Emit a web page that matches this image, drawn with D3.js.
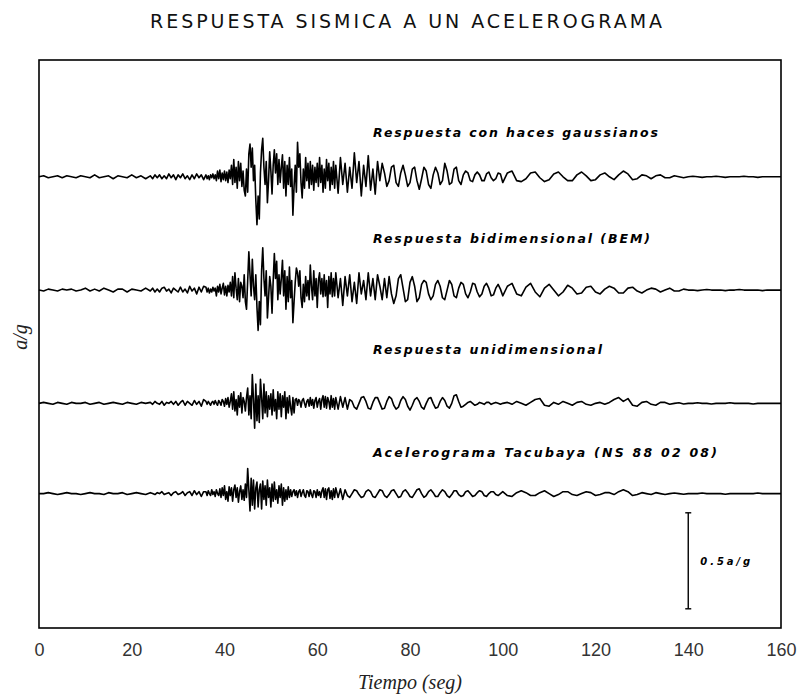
<!DOCTYPE html>
<html><head><meta charset="utf-8">
<script src="https://cdn.jsdelivr.net/npm/d3@7/dist/d3.min.js"></script>
<style>body{margin:0;background:#fff}</style>
</head><body>
<svg id="chart" width="806" height="698"></svg>
<script>
// ---------------- DATA ----------------
const chartTitle = "RESPUESTA SISMICA A UN ACELEROGRAMA";
const xAxisTitle = "Tiempo (seg)";
const yAxisTitle = "a/g";
const xTickValues = [0, 20, 40, 60, 80, 100, 120, 140, 160];
const traceLabels = [
  "Respuesta con haces gaussianos",
  "Respuesta bidimensional (BEM)",
  "Respuesta unidimensional",
  "Acelerograma Tacubaya (NS 88 02 08)"
];
// vertical offsets of each trace (a/g units)
const traceOffsets = [2.35, 1.76, 1.17, 0.70];
// sampling instants (s): dt = 1, 0.5, 0.25, 0.5, 1 s in successive windows
const sampleTimes = [].concat(
  d3.range(0, 24, 1), d3.range(24, 36, 0.5), d3.range(36, 64, 0.25),
  d3.range(64, 100, 0.5), d3.range(100, 161, 1));

// a/g values
const respHaces = [
  0,.005,-.005,0,.005,-.005,.005,0,-.005,.005,0,-.005,.01,-.005,0,.005,-.01,.005,0,-.005,.01,-.005,.005,-.01,
  .005,-.01,.01,-.005,.01,-.01,.005,-.01,.015,-.005,.01,-.015,.01,-.005,.015,-.01,.005,-.015,.01,-.01,.015,-.005,.01,-.015,
  .01,-.01,.005,-.015,.01,-.005,.015,-.01,.01,
  -.02,.03,-.01,.035,-.025,.02,-.015,.03,-.02,.025,-.03,.035,-.01,
  .06,-.04,.09,-.03,.05,-.06,.08,-.02,.07,-.05,
  .03,-.07,
  -.10,.04,-.08,.12,.17,.05,.15,
  -.02,.06,-.12,
  -.25,-.10,-.22,.02,
  .14,.20,
  .05,-.04,.08,
  -.135,-.02,.13,.03,-.09,
  .06,
  .14,.02,.12,-.04,.09,-.03,
  .05,
  .115,-.06,.08,-.10,.06,-.04,.10,
  -.05,.04,
  -.20,
  -.05,.06,-.08,
  .18,.05,.12,
  -.03,
  -.11,.04,-.06,.10,-.02,.07,
  -.06,
  .08,-.04,.06,-.07,.05,-.03,.07,-.05,
  .10,-.03,.06,-.08,.04,-.06,.09,-.02,.07,-.07,.05,-.04,.08,-.06,
  .06,-.085,.10,-.04,.07,-.08,.05,-.06,
  .125,-.03,.08,-.10,.06,-.05,.11,-.07,.04,-.09,.08,-.02,
  .07,.02,-.05,-.02,.05,.06,-.03,-.05,.02,.06,.01,-.05,-.03,.04,
  .05,-.02,-.065,-.01,.05,.03,-.04,-.06,.01,.05,.02,-.04,
  -.02,.07,.03,-.04,-.03,.04,.05,-.02,-.04,.01,
  .03,.02,-.02,-.025,.01,.025,.01,-.02,-.02,.015,.025,-.005,-.02,-.01,.02,.015,
  -.03,.02,.03,-.02,
  -.025,-.01,.02,.025,-.005,-.025,-.015,.015,.025,0,-.02,-.02,.01,.025,.005,-.02,-.015,.01,.02,0,-.015,
  .01,.03,.015,-.015,-.01,
  .01,.005,-.01,.005,.01,-.005,-.005,.005,0,-.005,
  0,.003,0,-.003,0,0,.003,0,-.003,0,0,0,.003,0,0,-.003,0,0,0,0,0
];
const respBEM = [
  0,-.005,.005,0,-.005,.005,0,.005,-.005,0,.01,-.005,.005,-.005,.01,0,-.01,.005,.005,-.01,.005,0,-.005,.01,
  -.005,.01,-.01,.005,-.01,.01,.015,-.005,.005,-.015,.01,0,-.01,.015,-.01,.005,-.015,.02,-.005,.01,-.02,.015,-.01,.02,
  .015,-.01,.01,-.015,.005,-.01,.015,-.005,.01,
  -.03,.02,-.01,.03,-.02,.01,.035,-.025,.02,-.03,.025,-.01,.04,
  -.03,.07,-.04,.09,.01,-.05,.06,-.06,.04,.02,
  -.04,.08,
  -.06,-.10,.05,.20,.08,-.03,.16,
  .02,-.05,.08,
  -.09,-.21,-.06,-.18,
  .10,.22,
  .06,-.03,.10,
  -.145,-.04,.07,.02,-.12,
  .05,
  .19,.06,.15,-.05,.08,-.02,
  .06,
  .155,-.03,.10,-.10,.07,-.06,.12,
  -.04,.05,
  -.17,
  -.06,.04,.115,
  .09,.02,.10,
  -.04,
  -.09,.03,-.06,.07,-.03,.05,
  -.05,
  .13,.02,-.05,.10,-.03,.06,-.09,.05,
  .09,-.02,.06,-.035,.08,-.03,.05,-.09,.07,-.02,.09,-.035,.06,-.03,
  .09,-.04,.06,-.08,.07,-.03,.08,-.06,.04,-.07,.09,-.02,.05,-.05,
  .09,-.03,.06,-.05,.08,.02,-.05,.06,-.04,.07,-.02,
  -.07,-.03,.06,.08,.01,-.06,-.05,.04,.07,.02,-.06,-.04,
  .03,.05,.04,-.02,-.05,-.03,.03,.05,.02,-.04,-.05,0,.05,.03,
  -.03,-.04,.01,.04,.03,-.02,-.04,-.01,.035,.03,-.01,-.035,-.02,.02,.035,.01,-.03,-.025,.01,.03,.005,
  -.03,.02,.035,-.02,-.03,.015,.035,-.01,-.035,.01,.03,0,-.03,-.01,.025,
  .01,-.02,-.015,.015,.02,-.01,-.02,.005,.02,.01,-.015,-.015,.01,.015,-.005,-.015,0,.01,
  .005,-.01,0,.01,-.005,-.005,.005,0,
  0,-.003,0,.003,0,0,0,-.003,0,0,.003,0,0,0,0,-.003,0,0,0,0
];
const respUni = [
  0,.005,0,-.005,.005,0,-.005,.005,0,0,.005,-.005,0,.005,-.005,0,.005,0,-.005,.005,0,-.005,.005,0,
  .005,-.005,.01,0,-.005,.01,-.01,.005,0,.01,-.005,.01,-.01,.005,.015,-.01,.01,0,-.01,.015,-.005,.01,-.015,.02,
  .01,-.005,.01,0,-.01,.005,.01,-.005,.015,0,-.01,.015,.005,
  -.01,.02,.01,-.015,.025,-.005,.03,-.02,.01,
  .05,-.03,.06,-.04,.02,-.06,.04,-.02,.055,-.05,.03,.01,-.04,.03,
  .08,-.06,.04,-.08,
  .15,.02,-.13,.10,-.09,
  .04,-.10,
  .125,.03,-.08,.10,-.05,.06,-.07,.04,-.03,
  .05,-.06,
  .07,-.04,.02,-.08,.06,-.03,.05,-.07,.04,-.02,.06,-.08,.03,-.05,.04,
  -.02,-.06,.03,-.05,.02,
  .025,-.01,.02,.01,-.02,.015,.025,0,-.02,.01,.02,-.015,.03,-.01,.02,-.025,.015,.03,-.02,.01,.025,-.03,.02,.04,-.02,.035,-.025,.03,.01,-.03,.04,-.02,.025,
  -.03,
  .03,-.03,.035,-.02,.03,-.03,.02,.01,
  -.02,-.03,0,.03,.035,.01,-.025,-.03,.005,.03,.03,0,-.03,-.025,.01,.035,.025,-.01,-.03,-.02,.015,.035,.02,-.015,
  -.035,-.01,.02,.03,.01,-.02,-.03,0,.025,.03,0,-.025,-.02,.01,.03,.015,-.015,-.025,0,.04,.045,.01,-.02,-.015,
  -.005,.005,.01,0,-.01,-.005,.005,0,-.005,.005,.005,-.005,0,.005,0,-.005,
  0,.005,-.005,.01,0,-.01,.005,
  .02,.025,-.01,-.015,
  .005,-.005,.01,0,-.01,.005,.01,-.005,-.01,0,.005,-.005,.005,
  .02,.03,.01,.025,-.01,-.015,
  .005,.01,-.005,-.01,.005,.005,-.005,0,.003,-.003,
  0,0,.003,0,0,-.003,0,0,0,.003,0,0,0,0,-.003,0,0,0,0,0,0
];
const acelTacubaya = [
  0,0,.005,0,-.005,0,.005,0,0,-.005,0,.005,0,0,-.005,.005,0,0,.005,-.005,0,.005,0,-.005,
  .005,0,-.005,.005,0,.01,-.005,0,.005,-.01,.005,.01,-.005,0,.01,-.01,.005,.01,-.01,.015,-.005,.01,-.015,.01,
  .01,-.01,.015,0,-.01,.02,-.005,.01,-.015,.02,0,-.01,.025,
  -.02,.03,-.01,.04,-.03,.01,-.04,.035,-.01,.03,-.04,.02,.045,-.02,.03,-.045,.01,.04,-.03,.02,-.035,.05,-.02,
  .13,.02,-.09,.08,-.06,
  .07,-.08,.03,.06,-.07,.02,.05,-.08,.065,-.03,.04,-.06,.07,-.02,.03,-.07,.05,-.04,.06,-.03,.02,-.05,.04,-.02,.05,-.06,.03,-.04,.02,-.03,.035,-.02,
  .02,-.015,.01,.02,-.01,.015,-.02,.01,.02,-.015,.005,.02,-.01,-.02,.015,.01,-.015,.02,-.005,-.02,.015,.01,-.02,.02,-.01,.01,-.02,.015,
  .03,-.02,.025,-.03,.02,.03,-.025,.015,-.03,.025,-.02,
  .03,-.02,.025,-.03,.02,
  -.01,-.02,0,.02,.015,-.005,-.02,-.015,.01,.02,.01,-.015,-.02,0,.02,.015,-.01,-.02,-.005,.015,
  .02,0,-.02,-.015,.01,.02,.005,-.015,-.02,0,.02,.025,0,-.02,-.01,.01,.02,.005,-.015,-.015,
  .005,.02,.01,-.01,-.02,-.005,.015,.015,-.005,-.015,-.01,.01,.015,0,-.015,-.01,.005,.015,.01,-.01,
  -.015,0,.01,.01,-.005,-.01,0,
  .01,-.01,-.015,.005,.015,.005,-.01,-.01,.005,.015,0,-.015,-.005,.01,.01,-.005,-.01,0,.01,.005,-.01,-.005,.005,.005,-.005,
  .01,.02,.01,-.01,-.005,
  .005,0,-.005,.005,0,-.005,0,.003,0,-.003,
  0,0,0,.003,0,0,0,0,-.003,0,0,0,0,0,0,.003,0,0,0,0,0
];
const traceSeries = [respHaces, respBEM, respUni, acelTacubaya];
// amplitude reference bar
const scaleBarTime = 140;
const scaleBarRange = [0.1, 0.6];
const scaleBarLabel = "0.5a/g";

// ---------------- DRAW ----------------
const svg = d3.select("#chart");
const W = 806, H = 698;
const m = {left: 39, right: 25, top: 60, bottom: 70};
const x = d3.scaleLinear().domain([0, 160]).range([m.left, W - m.right]);
const y = d3.scaleLinear().domain([0, 2.9583]).range([H - m.bottom, m.top]);

svg.append("rect").attr("width", W).attr("height", H).attr("fill", "#fff");

// frame
svg.append("rect")
  .attr("x", x(0)).attr("y", y(2.9583))
  .attr("width", x(160) - x(0)).attr("height", y(0) - y(2.9583))
  .attr("fill", "none").attr("stroke", "#000").attr("stroke-width", 1.6);

// title
svg.append("text").text(chartTitle)
  .attr("x", 150).attr("y", 28)
  .attr("textLength", 512).attr("lengthAdjust", "spacing")
  .attr("font-family", "DejaVu Sans").attr("font-size", 19)
  .attr("fill", "#111");

// x axis labels
const xAxis = d3.axisBottom(x).tickValues(xTickValues).tickSize(0).tickPadding(0);
const gx = svg.append("g").attr("transform", `translate(0,${y(0) + 15})`).call(xAxis);
gx.select(".domain").remove();
gx.selectAll("text")
  .attr("font-family", "Liberation Sans").attr("font-size", 18)
  .attr("fill", "#333").attr("dy", "0.71em");

svg.append("text").text(xAxisTitle)
  .attr("x", 410).attr("y", 689).attr("text-anchor", "middle")
  .attr("font-family", "Liberation Serif").attr("font-style", "italic")
  .attr("font-size", 20).attr("fill", "#222");

svg.append("text").text(yAxisTitle)
  .attr("transform", `translate(27,${337}) rotate(-90)`)
  .attr("text-anchor", "middle")
  .attr("font-family", "Liberation Serif").attr("font-style", "italic")
  .attr("font-size", 20).attr("fill", "#222");

// traces
const labelPos = [{y: 137, w: 285}, {y: 243, w: 277}, {y: 354, w: 229}, {y: 457, w: 344}];
traceSeries.forEach((vals, i) => {
  const line = d3.line()
    .x((d, j) => x(sampleTimes[j]))
    .y(d => y(traceOffsets[i] + d));
  svg.append("path").datum(vals)
    .attr("d", line)
    .attr("fill", "none").attr("stroke", "#000")
    .attr("stroke-width", 1.6).attr("stroke-linejoin", "round");
  svg.append("text").text(traceLabels[i])
    .attr("x", 373).attr("y", labelPos[i].y)
    .attr("textLength", labelPos[i].w).attr("lengthAdjust", "spacing")
    .attr("font-family", "DejaVu Sans").attr("font-style", "italic")
    .attr("font-weight", "bold").attr("font-size", 12.5).attr("fill", "#000");
});

// amplitude scale bar
const sbx = x(scaleBarTime);
svg.append("line")
  .attr("x1", sbx).attr("x2", sbx)
  .attr("y1", y(scaleBarRange[0])).attr("y2", y(scaleBarRange[1]))
  .attr("stroke", "#000").attr("stroke-width", 1.4);
scaleBarRange.forEach(v => {
  svg.append("line")
    .attr("x1", sbx - 3).attr("x2", sbx + 3)
    .attr("y1", y(v)).attr("y2", y(v))
    .attr("stroke", "#000").attr("stroke-width", 1.4);
});
svg.append("text").text(scaleBarLabel)
  .attr("x", sbx + 12).attr("y", y((scaleBarRange[0] + scaleBarRange[1]) / 2) + 4)
  .attr("textLength", 50).attr("lengthAdjust", "spacing")
  .attr("font-family", "DejaVu Sans").attr("font-style", "italic")
  .attr("font-weight", "bold").attr("font-size", 10).attr("fill", "#000");
</script>
</body></html>
